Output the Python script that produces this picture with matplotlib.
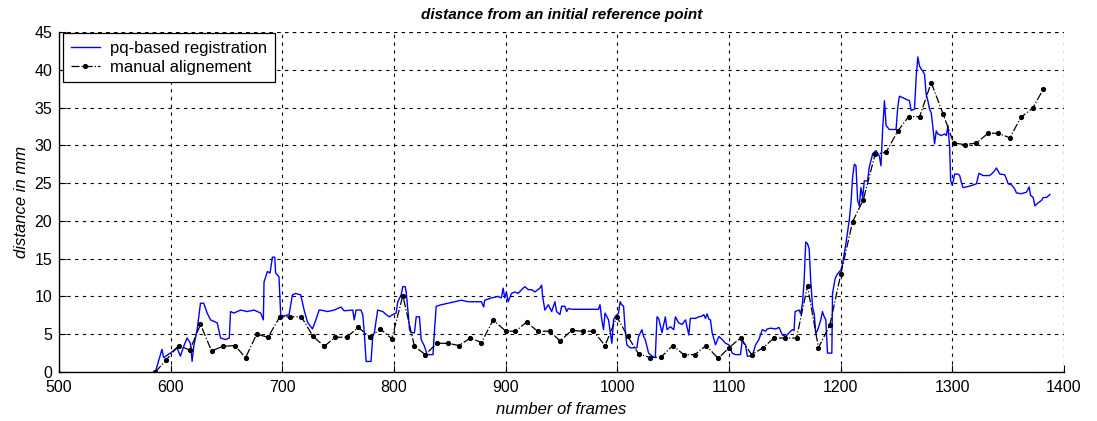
import matplotlib
matplotlib.use("Agg")
import matplotlib.pyplot as plt

# ---- data ----
pq_frames = [586.3, 592.2, 593.7, 599.7, 605.7, 608.7, 611.7, 614.7, 617.7, 619.2, 620.7, 623.7,
             626.7, 629.6, 632.7, 635.7, 641.7, 644.7, 649.1, 652.5, 653.6, 656.6, 662.6, 668.6,
             674.6, 680.6, 683.0, 683.6, 686.6, 689.0, 691.1, 693.2, 694.0, 697.0, 698.6, 706.0,
             709.0, 712.0, 716.5, 719.5, 722.5, 727.0, 730.0, 733.0,
             734.5, 740.5, 746.5, 752.5, 755.4, 763.0, 764.4, 766.0, 770.4, 772.0, 773.4, 775.0,
             779.4, 781.0, 782.4, 785.4, 790.0, 792.9, 795.9, 798.9, 801.9, 803.4, 806.4, 807.9,
             810.0, 810.9, 813.0, 813.9, 815.4, 818.3, 819.9, 822.8, 824.3, 827.3, 829.7, 834.9,
             836.3, 837.8, 842.3, 848.3, 854.3, 860.3, 866.3, 872.2, 878.3, 880.3, 881.2, 887.2,
             893.3, 896.2, 897.7, 899.2, 900.7, 902.2, 905.2, 908.2, 911.2, 914.2, 917.2, 920.2,
             923.2, 926.2, 930.6, 932.2, 933.1, 935.1, 938.2, 941.2, 944.1, 945.6, 948.6, 950.1,
             953.1, 954.6, 956.1, 959.1, 983.1, 984.5, 986.1, 987.6, 989.0, 992.1, 995.1, 996.6,
             998.0, 1001.1, 1002.5, 1004.0, 1005.6, 1007.0, 1008.5, 1011.5, 1014.5, 1017.5, 1019.0,
             1022.0, 1023.5, 1025.0, 1028.0, 1031.0, 1034.0, 1035.5, 1037.0, 1040.0, 1043.0, 1044.5,
             1047.5, 1050.5, 1052.0, 1055.0, 1058.0, 1061.0, 1064.0, 1065.4, 1069.9, 1072.9, 1075.9,
             1077.4, 1078.9, 1080.4, 1081.9, 1083.4, 1084.9, 1087.9, 1090.9, 1093.9, 1096.9, 1099.9,
             1102.9, 1105.8, 1110.3, 1111.9, 1113.4, 1114.8, 1116.4, 1120.8, 1123.8, 1126.8, 1129.8,
             1132.8, 1134.3, 1137.3, 1141.8, 1144.8, 1147.8, 1150.8, 1153.8, 1156.8, 1158.3, 1159.2,
             1162.8, 1164.2, 1165.8, 1167.3, 1168.7, 1170.3, 1171.8, 1173.2, 1174.8, 1176.3, 1177.7,
             1179.2, 1180.8, 1182.2, 1183.7, 1185.3, 1186.7, 1188.2, 1192.1, 1192.7, 1195.1, 1197.2,
             1200.2, 1201.7, 1203.2, 1204.7, 1206.2, 1207.7, 1209.2, 1210.7, 1212.2, 1213.7, 1215.2,
             1216.7, 1218.1, 1219.7, 1221.2, 1224.1, 1225.6, 1227.1, 1228.7, 1231.6, 1234.6, 1236.1,
             1237.6, 1239.2, 1240.7, 1243.6, 1249.6, 1251.1, 1252.6, 1255.6, 1258.6, 1261.6, 1263.1,
             1266.1, 1267.6, 1269.1, 1270.6, 1272.1, 1273.6, 1275.1, 1276.5, 1278.1, 1279.6, 1281.1,
             1282.6, 1284.1, 1285.6, 1287.1, 1290.1, 1293.1, 1294.6, 1296.1, 1297.6, 1298.5, 1300.0,
             1302.1, 1305.1, 1306.6, 1308.1, 1309.5, 1315.5, 1321.5, 1323.9, 1327.5, 1333.5, 1336.5,
             1339.5, 1342.5, 1347.0, 1350.0, 1352.9, 1356.0, 1357.4, 1361.9, 1366.4, 1368.8, 1370.0,
             1372.4, 1373.9, 1376.9, 1379.9, 1381.4, 1384.4, 1387.4]
pq_dist = [0.0, 3.0, 1.9, 2.5, 3.2, 2.1, 3.4, 4.5, 3.8, 1.4, 3.4, 5.6,
           9.1, 9.1, 7.8, 6.9, 6.5, 4.5, 4.3, 4.5, 8.0, 7.8, 8.2, 8.0,
           8.2, 7.8, 6.9, 11.9, 13.3, 13.1, 15.2, 15.2, 13.1, 12.6, 7.3, 7.6,
           10.2, 10.4, 10.2, 8.2, 6.6, 5.7, 6.9, 8.2,
           8.2, 8.0, 8.2, 8.6, 8.1, 8.2, 6.9, 8.2, 8.2, 7.6, 5.2, 1.4,
           1.4, 4.7, 5.2, 8.2, 8.0, 7.6, 7.3, 7.6, 7.8, 9.3, 10.2, 11.3,
           11.3, 10.6, 7.3, 5.6, 5.2, 5.2, 7.3, 7.3, 4.3, 3.4, 2.3, 2.3,
           5.6, 8.7, 8.9, 9.1, 9.3, 9.5, 9.3, 9.3, 9.3, 8.6, 9.5, 9.8,
           10.0, 9.8, 11.1, 9.8, 10.6, 9.3, 10.4, 10.6, 10.4, 10.9, 11.3, 10.9,
           10.9, 10.6, 11.1, 11.5, 10.0, 8.2, 8.9, 8.0, 9.3, 8.0, 7.6, 8.7,
           8.7, 8.0, 8.4, 8.3, 8.3, 8.9, 6.9, 5.6, 7.8, 6.9, 3.8, 6.9,
           7.3, 7.8, 9.3, 8.9, 8.7, 5.6, 3.6, 3.2, 3.2, 3.2, 4.7,
           5.6, 4.7, 4.3, 2.5, 2.1, 1.9, 7.3, 7.1, 5.2, 7.3, 5.6,
           6.0, 5.6, 7.3, 6.5, 6.3, 6.9, 4.9, 7.1, 7.1, 7.3, 7.4,
           7.6, 7.1, 7.7, 7.0, 6.9, 5.2, 3.6, 4.7, 4.3, 3.8, 3.6,
           2.5, 2.3, 2.3, 4.3, 3.8, 3.6, 2.1, 2.1, 3.6, 4.3, 5.6,
           5.4, 5.7, 5.8, 5.7, 5.9, 4.9, 4.7, 5.2, 5.6, 5.5, 8.0,
           8.2, 7.7, 9.1, 12.1, 17.2, 17.0, 16.3, 12.1, 8.6, 7.7, 5.1,
           5.5, 6.2, 6.9, 8.0, 7.3, 6.9, 2.5, 2.5, 10.4, 12.4, 13.0,
           13.5, 14.3, 15.7, 17.0, 18.5, 20.1, 22.3, 25.8, 27.5, 27.3, 22.7,
           22.0, 24.4, 23.1, 25.3, 25.3, 27.1, 28.0, 28.9, 29.3, 28.6, 27.3,
           32.1, 35.9, 32.6, 32.1, 32.1, 35.0, 36.5, 36.3, 36.1, 35.9, 34.6,
           34.8, 39.0, 41.7, 40.5, 40.1, 39.8, 39.4, 36.8, 35.9, 34.8, 34.3,
           32.4, 30.2, 31.9, 31.5, 31.3, 31.5, 31.3, 32.6, 29.7, 25.3, 24.7,
           26.2, 26.2, 26.0, 25.1, 24.4, 24.6, 24.9, 26.3, 26.0, 26.0, 26.4,
           27.0, 26.2, 26.1, 24.9, 24.8, 24.2, 23.7, 23.6, 23.8, 24.5, 23.4,
           23.1, 22.0, 22.4, 22.7, 23.1, 23.1, 23.5]

manual_frames = [586.3, 596.0, 607.2, 617.2, 626.7, 636.6, 647.0, 657.5, 667.1, 677.0, 687.2,
                 697.7, 706.9, 717.1, 727.6, 737.5, 747.4, 757.6, 768.0, 778.5, 787.8, 798.0,
                 807.9, 818.3, 828.0, 838.4, 848.3, 858.2, 868.4, 878.3, 888.8, 900.1, 908.8,
                 918.7, 928.6, 939.6, 948.6, 959.1, 969.0, 978.6, 989.0, 999.5, 1009.4, 1019.0,
                 1029.5, 1039.4, 1049.6, 1059.5, 1069.3, 1079.5, 1090.3, 1099.9, 1110.3, 1120.2,
                 1130.4, 1140.3, 1150.2, 1160.5, 1170.3, 1180.1, 1190.3, 1200.2, 1210.7, 1220.3,
                 1230.8, 1240.7, 1251.2, 1260.8, 1270.7, 1281.1, 1291.6, 1301.2, 1311.1, 1321.5,
                 1332.0, 1341.0, 1351.5, 1361.4, 1371.8, 1381.4]
manual_dist = [0.0, 1.6, 3.5, 2.9, 6.3, 2.8, 3.4, 3.5, 1.9, 5.0, 4.6,
               7.3, 7.3, 7.3, 4.7, 3.4, 4.6, 4.6, 5.9, 4.6, 5.7, 4.4,
               10.1, 3.4, 2.3, 3.8, 3.8, 3.5, 4.5, 3.9, 6.9, 5.4, 5.4,
               6.6, 5.4, 5.4, 4.1, 5.5, 5.4, 5.4, 3.5, 7.3, 4.7, 2.4,
               1.9, 2.0, 3.5, 2.3, 2.3, 3.5, 1.8, 3.2, 4.5, 2.3,
               3.2, 4.5, 4.5, 4.5, 11.4, 3.2, 6.2, 13.0, 19.9, 22.8,
               28.8, 29.1, 31.9, 33.8, 33.8, 38.3, 34.2, 30.3, 30.1, 30.3,
               31.6, 31.6, 31.0, 33.7, 34.9, 37.4]

x_ticks = [500, 600, 700, 800, 900, 1000, 1100, 1200, 1300, 1400]
y_ticks = [0, 5, 10, 15, 20, 25, 30, 35, 40, 45]
series_labels = ["pq-based registration", "manual alignement"]
title_text = "distance from an initial reference point"
x_label = "number of frames"
y_label = "distance in mm"

plt.rcParams['font.family'] = ['Liberation Sans', 'DejaVu Sans']

fig = plt.figure(figsize=(10.97, 4.21), dpi=100)
ax = fig.add_axes([59 / 1097, 49 / 421, (1064 - 59) / 1097, (372 - 32) / 421])

ax.plot(pq_frames, pq_dist, color=(0, 0, 1), linewidth=1.0, label=series_labels[0], zorder=3)
ax.plot(manual_frames, manual_dist, color='black', linestyle='-.', linewidth=0.9,
        marker='.', markersize=5.5, label=series_labels[1], zorder=4)

ax.set_xlim(500, 1400)
ax.set_ylim(0, 45)
ax.set_xticks(x_ticks)
ax.set_yticks(y_ticks)
ax.tick_params(direction='in', length=5, labelsize=11.5, colors='black', width=0.8)
ax.tick_params(axis='x', pad=6)
ax.tick_params(axis='y', pad=5)
for s in ['top', 'right']:
    ax.spines[s].set_visible(False)
for s in ['left', 'bottom']:
    ax.spines[s].set_linewidth(1.0)

grid_ls = (0, (3, 4))
ax.grid(True, color='black', linestyle=grid_ls, linewidth=0.8)
ax.axhline(45, color='black', linestyle=grid_ls, linewidth=0.8)
ax.axvline(1400, color='black', linestyle=grid_ls, linewidth=0.8)

ax.set_title(title_text, fontsize=11, fontweight='bold', fontstyle='italic', pad=9)
ax.set_xlabel(x_label, fontsize=12, fontstyle='italic', labelpad=5)
ax.set_ylabel(y_label, fontsize=12, fontstyle='italic', labelpad=4)

leg = ax.legend(loc='upper left', bbox_to_anchor=(4 / 1005, 1 - 1 / 340), borderaxespad=0,
                fontsize=12, frameon=True, fancybox=False, framealpha=1, edgecolor='black',
                handlelength=1.75, handletextpad=0.65, borderpad=0.45, labelspacing=0.25)
leg.get_frame().set_linewidth(0.9)

fig.savefig("out.png", dpi=100, facecolor='white')
